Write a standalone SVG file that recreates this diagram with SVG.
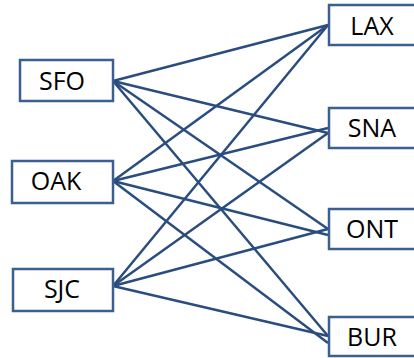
<svg xmlns="http://www.w3.org/2000/svg" width="414" height="358" viewBox="0 0 414 358">
<style>
.box{fill:#fff;stroke:#3b5f8e;stroke-width:2.5}
.lbl{font-family:"Open Sans",sans-serif;font-size:25px;fill:#000;text-anchor:middle}
.e{stroke:#2a4d7f;stroke-width:2.5;fill:none}
</style>
<rect width="414" height="358" fill="#fff"/>
<g id="connectors">
<line class="e" x1="113" y1="81" x2="328" y2="25"/>
<line class="e" x1="113" y1="81" x2="328" y2="133"/>
<line class="e" x1="113" y1="81" x2="328" y2="229"/>
<line class="e" x1="113" y1="81" x2="328" y2="336"/>
<line class="e" x1="113" y1="181" x2="328" y2="25"/>
<line class="e" x1="113" y1="181" x2="328" y2="128"/>
<line class="e" x1="113" y1="181" x2="328" y2="235"/>
<line class="e" x1="113" y1="181" x2="328" y2="343"/>
<line class="e" x1="113" y1="286" x2="328" y2="25"/>
<line class="e" x1="113" y1="286" x2="328" y2="133"/>
<line class="e" x1="113" y1="286" x2="328" y2="229"/>
<line class="e" x1="113" y1="286" x2="328" y2="336"/>
</g>
<g id="SFO"><rect class="box" x="20" y="60" width="93" height="41"/><text class="lbl" x="62" y="90">SFO</text></g>
<g id="OAK"><rect class="box" x="12" y="161" width="101" height="42"/><text class="lbl" x="56" y="190">OAK</text></g>
<g id="SJC"><rect class="box" x="13" y="269" width="100" height="42"/><text class="lbl" x="62" y="298">SJC</text></g>
<g id="LAX"><rect class="box" x="329" y="5" width="90" height="40"/><text class="lbl" x="372" y="35">LAX</text></g>
<g id="SNA"><rect class="box" x="329" y="108" width="90" height="40"/><text class="lbl" x="372" y="137">SNA</text></g>
<g id="ONT"><rect class="box" x="329" y="209" width="90" height="40"/><text class="lbl" x="372" y="238">ONT</text></g>
<g id="BUR"><rect class="box" x="329" y="317" width="90" height="39"/><text class="lbl" x="372" y="346">BUR</text></g>
</svg>
